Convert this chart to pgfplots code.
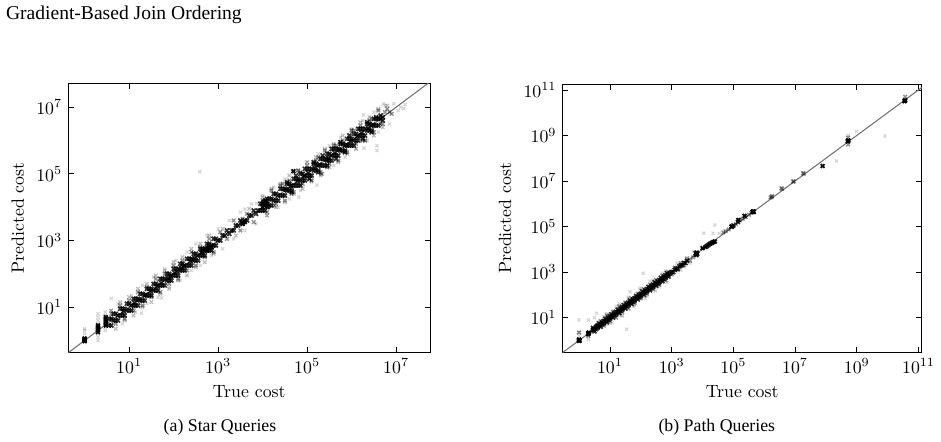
\documentclass[border=0pt]{standalone}
\usepackage{pgfplots}
\pgfplotsset{compat=1.18}
\usepackage{fontspec}
\newfontfamily\capfont{Liberation Serif}

\pgfplotsset{
  scPts/.style={only marks, mark=x, black},
  scHalo/.style={scPts, mark size=1.25pt, line width=0.6pt, opacity=0.17},
  scWide/.style={scPts, mark size=1.4pt, line width=0.7pt, opacity=0.25},
  scMid/.style={scPts, mark size=1.45pt, line width=0.8pt, opacity=0.42},
  scCore/.style={scPts, mark size=1.6pt, line width=0.95pt, opacity=0.8},
  scDark/.style={scPts, mark size=1.5pt, line width=1pt, opacity=0.95},
  scDiag/.style={no marks, black!55, line width=0.6pt},
}

\begin{document}
\begin{tikzpicture}
\path[use as bounding box] (0pt,0pt) rectangle (529.3pt,248.6pt);

\node[anchor=base west, inner sep=0pt, font=\capfont\fontsize{11}{13}\selectfont] at (3.2pt,237.8pt) {Gradient-Based Join Ordering};

% ---------------- (a) Star queries ----------------
\begin{axis}[
  xmode=log, ymode=log, scale only axis,
  xlabel={True cost}, ylabel={Predicted cost},
  tick align=inside, major tick length=3pt,
  tick style={black, line width=0.4pt},
  axis line style={black, line width=0.5pt},
  at={(38.42pt,50.23pt)}, anchor=south west,
  width=203.5pt, height=151.5pt,
  xmin=0.43, xmax=5.8e7, ymin=0.43, ymax=5.2e7,
  xtick={10,1e3,1e5,1e7}, ytick={10,1e3,1e5,1e7}]

\addplot[scHalo] coordinates {
(1,1.58) (1,2.0) (1,2.24) (2,1.0) (2,1.26) (2,1.58) (2,3.16) (2,3.98) (2,5.01) (2,6.31)
(2.9,2.0) (2.9,2.51) (2.9,5.62) (2.9,7.08) (3.98,18.2) (3.9,7.94)
(5.62,12.6) (7.08,3.16) (11.2,22.4) (14.1,7.08) (19,6.6) (20,44.7) (25.1,12.6) (35.5,79.4)
(44.7,20) (54,19) (63.1,141) (79.4,39.8) (112,251) (141,63.1) (200,447) (251,126)
(316,794) (398,178) (562,1410) (708,355) (1000,2240) (1260,562) (1780,3980) (2240,1120)
(3160,7080) (3980,2000) (4000,8700) (7400,13000) (5620,12600) (7080,3160)
(1e4,2.24e4) (1.26e4,5.62e3) (1.78e4,3.98e4) (2.24e4,1e4) (3.16e4,7.08e4) (3.98e4,1.78e4)
(5.62e4,1.26e5) (7.08e4,3.16e4) (6.5e4,2.0e4) (1e5,2.24e5) (1.26e5,5.62e4) (1.66e5,4.6e4)
(1.78e5,3.98e5) (2.24e5,1e5) (3.16e5,7.08e5) (3.98e5,1.78e5) (5.62e5,1.26e6) (7.08e5,3.16e5)
(1e6,2.24e6) (1.26e6,5.62e5) (1.78e6,3.98e6) (2.24e6,1e6) (1.9e6,5.9e5) (1.86e6,5.8e6)
(3.16e6,7.08e6) (3.98e6,1.78e6) (3.72e6,5.0e5) (3.72e6,7.0e5) (5.62e6,1.12e7) (7.08e6,3.16e6)
(8.91e6,1.26e7) (1.12e7,7.94e6) (1.26e7,1.0e7) (1.48e7,9.1e6) (5.2e6,1.26e7) (1.6e7,1.2e7)
(390,1.15e5)
};

\addplot[scWide] coordinates {
(3.98,7.94) (5.01,2.24) (6.31,14.1) (7.94,3.98) (10,20) (12.6,5.62) (15.8,35.5) (20,10)
(25.1,50.1) (31.6,14.1) (39.8,89.1) (50.1,25.1) (63.1,126) (79.4,35.5) (100,224) (126,63.1)
(158,316) (200,89.1) (251,562) (316,158) (398,794) (501,224) (631,1410) (794,398)
(1260,2240) (2510,1410) (5010,8910)
(1e4,2e4) (1.26e4,5.62e3) (1.58e4,3.55e4) (2e4,1e4) (2.51e4,5.01e4) (3.16e4,1.41e4)
(3.98e4,8.91e4) (5.01e4,2.51e4) (6.31e4,1.26e5) (7.94e4,3.55e4) (1e5,2.24e5) (1.26e5,6.31e4)
(1.58e5,3.16e5) (2e5,8.91e4) (2.51e5,5.62e5) (3.16e5,1.58e5) (3.98e5,7.94e5) (5.01e5,2.24e5)
(6.31e5,1.41e6) (7.94e5,3.98e5) (1e6,2e6) (1.26e6,5.62e5) (1.58e6,3.55e6) (2e6,1e6)
(2.51e6,5.01e6) (3.16e6,1.41e6) (3.98e6,8.91e6) (5.01e6,2.51e6) (6.31e6,1.12e7)
};

\addplot[scMid] coordinates {
(3.98,6.31) (5.01,3.16) (6.31,11.2) (7.94,4.47) (10,15.8) (12.6,7.94) (15.8,28.2) (20,11.2)
(25.1,39.8) (31.6,20) (39.8,70.8) (50.1,28.2) (63.1,100) (79.4,50.1) (100,178) (126,70.8)
(158,251) (200,126) (251,447) (316,178) (398,631) (501,316) (631,1120) (794,447)
(1120,1780) (1580,1120) (2240,3980) (3160,2000) (4470,6310) (6310,3550) (3550,4470)
(1e4,1.58e4) (1.26e4,7.08e3) (1.58e4,3.16e4) (2e4,1.26e4) (2.51e4,4.47e4) (3.16e4,1.58e4)
(3.98e4,6.31e4) (5.01e4,2.82e4) (6.31e4,1.26e5) (7.94e4,5.01e4) (1e5,1.78e5) (1.26e5,6.31e4)
(1.58e5,2.51e5) (2e5,1.12e5) (2.1e5,1.0e5) (2.51e5,5.01e5) (3.16e5,2e5) (3.98e5,7.08e5) (5.01e5,2.51e5)
(6.31e5,1e6) (7.94e5,4.47e5) (1e6,2e6) (1.26e6,7.94e5) (1.58e6,2.82e6) (2e6,1e6)
(2.51e6,3.98e6) (3.16e6,1.78e6) (3.98e6,7.94e6) (5.01e6,3.16e6) (6.31e6,8.91e6) (7.94e6,6.31e6)
(1.78e4,1.12e4) (2.82e4,5.01e4) (4.47e4,2.51e4) (7.08e4,1.12e5) (1.12e5,7.08e4) (1.78e5,3.16e5)
(2.82e5,1.58e5) (4.47e5,7.08e5) (7.08e5,4.47e5) (1.12e6,2e6) (1.78e6,1e6) (2.82e6,4.47e6)
(4.47e6,3.16e6) (5.62e6,7.08e6) (7.08e6,7.08e6)
};

\addplot[scCore] coordinates {
(3.55,2.82) (3.55,4.47) (3.98,2.82) (3.98,4.47) (4.47,3.98) (4.47,6.31) (5.01,6.31) (5.01,3.98)
(5.62,5.62) (5.62,3.98) (6.31,8.91) (6.31,5.62) (7.08,5.62) (7.08,8.91) (7.94,5.62) (7.94,8.91)
(8.91,7.94) (8.91,12.6) (10,12.6) (10,7.94) (11.2,11.2) (11.2,7.94) (12.6,17.8) (12.6,11.2)
(14.1,11.2) (14.1,17.8) (15.8,11.2) (15.8,17.8) (17.8,15.8) (17.8,25.1) (20,25.1) (20,15.8)
(22.4,22.4) (22.4,15.8) (25.1,35.5) (25.1,22.4) (28.2,22.4) (28.2,35.5) (31.6,22.4) (31.6,35.5)
(35.5,31.6) (35.5,50.1) (39.8,50.1) (39.8,31.6) (44.7,44.7) (44.7,31.6) (50.1,70.8) (50.1,44.7)
(56.2,44.7) (56.2,70.8) (63.1,44.7) (63.1,70.8) (70.8,63.1) (70.8,100) (79.4,100) (79.4,63.1)
(89.1,89.1) (89.1,63.1) (100,141) (100,89.1) (112,89.1) (112,141) (126,89.1) (126,141)
(141,126) (141,200) (158,200) (158,126) (178,178) (178,126) (200,282) (200,178)
(224,178) (224,282) (251,178) (251,282) (282,251) (282,398) (316,398) (316,251)
(355,355) (355,251) (398,562) (398,355) (447,355) (447,562) (501,355) (501,562)
(562,501) (562,794) (631,794) (631,501) (708,708) (708,501) (794,1120) (794,708)
(891,708) (891,1120)
(1000,1000) (1120,1000) (1260,1410) (1410,1410) (1580,2000) (1780,1580) (2000,2000) (2240,2000)
(2510,2820) (2820,2820) (3160,3980) (3550,3160) (3980,3980) (4470,3980) (5010,5620) (5620,5620)
(6310,7940) (7080,6310) (7940,7940)
(8.91e3,7.94e3) (8.91e3,1.26e4) (1e4,1.26e4) (1e4,7.94e3) (1.12e4,1.12e4) (1.12e4,7.94e3)
(1.26e4,1.78e4) (1.26e4,1.12e4) (1.41e4,1.12e4) (1.41e4,1.78e4) (1.58e4,1.12e4) (1.58e4,1.78e4)
(1.78e4,1.58e4) (1.78e4,2.51e4) (2e4,2.51e4) (2e4,1.58e4) (2.24e4,2.24e4) (2.24e4,1.58e4)
(2.51e4,3.55e4) (2.51e4,2.24e4) (2.82e4,2.24e4) (2.82e4,3.55e4) (3.16e4,2.24e4) (3.16e4,3.55e4)
(3.55e4,3.16e4) (3.55e4,5.01e4) (3.98e4,5.01e4) (3.98e4,3.16e4) (4.47e4,4.47e4) (4.47e4,3.16e4)
(5.01e4,7.08e4) (5.01e4,4.47e4) (5.62e4,4.47e4) (5.62e4,7.08e4) (6.31e4,4.47e4) (6.31e4,7.08e4)
(7.08e4,6.31e4) (7.08e4,1e5) (7.94e4,1e5) (7.94e4,6.31e4) (8.91e4,8.91e4) (8.91e4,6.31e4)
(1e5,1.41e5) (1e5,8.91e4) (1.12e5,8.91e4) (1.12e5,1.41e5) (1.26e5,8.91e4) (1.26e5,1.41e5)
(1.41e5,1.26e5) (1.41e5,2e5) (1.58e5,2e5) (1.58e5,1.26e5) (1.78e5,1.78e5) (1.78e5,1.26e5)
(2e5,2.82e5) (2e5,1.78e5) (2.24e5,1.78e5) (2.24e5,2.82e5) (2.51e5,1.78e5) (2.51e5,2.82e5)
(2.82e5,2.51e5) (2.82e5,3.98e5) (3.16e5,3.98e5) (3.16e5,2.51e5) (3.55e5,3.55e5) (3.55e5,2.51e5)
(3.98e5,5.62e5) (3.98e5,3.55e5) (4.47e5,3.55e5) (4.47e5,5.62e5) (5.01e5,3.55e5) (5.01e5,5.62e5)
(5.62e5,5.01e5) (5.62e5,7.94e5) (6.31e5,7.94e5) (6.31e5,5.01e5) (7.08e5,7.08e5) (7.08e5,5.01e5)
(7.94e5,1.12e6) (7.94e5,7.08e5) (8.91e5,7.08e5) (8.91e5,1.12e6) (1e6,7.08e5) (1e6,1.12e6)
(1.12e6,1e6) (1.12e6,1.58e6) (1.26e6,1.58e6) (1.26e6,1e6) (1.41e6,1.41e6) (1.41e6,1e6)
(1.58e6,2.24e6) (1.58e6,1.41e6) (1.78e6,1.41e6) (1.78e6,2.24e6) (2e6,1.41e6) (2e6,2.24e6)
(2.24e6,2e6) (2.24e6,3.16e6) (2.51e6,3.16e6) (2.51e6,2e6) (2.82e6,2.82e6) (2.82e6,2e6)
(3.16e6,4.47e6) (3.16e6,2.82e6) (3.55e6,2.82e6) (3.55e6,4.47e6) (3.98e6,2.82e6) (3.98e6,4.47e6)
(4.47e6,4.47e6) (4.47e6,5.62e6) (5.01e6,5.01e6) (5.01e6,3.98e6)
(7.5,7.5) (13.3,13.3) (16.8,16.8) (23.7,23.7) (30,30) (42,42) (53,53) (75,75) (84,84)
(106,106) (119,119) (150,150) (168,168) (237,237) (266,266) (300,300) (422,422) (596,596)
(1.5e5,1.5e5) (1.9e5,1.9e5) (2.7e5,2.7e5) (3.0e5,3.0e5) (4.2e5,4.2e5) (5.3e5,5.3e5)
(7.5e5,7.5e5) (9.4e5,9.4e5) (1.33e6,1.33e6) (1.68e6,1.68e6) (2.37e6,2.37e6) (3.0e6,3.0e6)
(6.0e4,6.0e4) (8.4e4,8.4e4) (1.06e5,1.06e5) (3.35e4,3.35e4) (4.2e4,4.2e4)
(3.55e4,5.62e4) (4.47e4,2.82e4) (5.62e4,8.91e4) (7.08e4,4.47e4) (8.91e4,1.41e5) (1.12e5,7.08e4)
(1.41e5,2.24e5) (1.78e5,1.12e5) (2.24e5,3.55e5) (2.82e5,1.78e5) (3.55e5,5.62e5) (4.47e5,2.82e5)
(5.62e5,8.91e5) (7.08e5,4.47e5) (8.91e5,1.41e6) (1.12e6,7.08e5) (1.41e6,2.24e6) (1.78e6,1.12e6)
(2.24e6,3.55e6) (2.82e6,1.78e6) (3.55e6,5.01e6)
};

\addplot[scDark] coordinates {
(1,1) (1,1.05) (1,1.1) (1,0.95) (1,1.15) (1,1.0)
(2,2.0) (2,2.24) (2,2.51) (2,2.82) (2,1.78)
(3,2.82) (3,3.16) (3,3.55) (3,3.98) (3,4.47) (3,5.01)
(447,447) (501,501) (562,562) (631,631) (501,562) (562,501) (447,501) (631,708) (708,631)
(3550,3160) (3980,3550) (3550,3550)
(1e4,1e4) (1.1e4,1.12e4) (1.2e4,1.3e4) (1.05e4,1.45e4) (1.3e4,1.0e4) (1.15e4,1.6e4) (1e4,1.26e4) (1.26e4,1.26e4)
(4.9e4,1.2e5)
};

\addplot[scDiag] coordinates {(0.1,0.1) (1e9,1e9)};
\end{axis}

% ---------------- (b) Path queries ----------------
\begin{axis}[
  xmode=log, ymode=log, scale only axis,
  xlabel={True cost}, ylabel={Predicted cost},
  tick align=inside, major tick length=3pt,
  tick style={black, line width=0.4pt},
  axis line style={black, line width=0.5pt},
  at={(316.5pt,50.23pt)}, anchor=south west,
  width=201.9pt, height=151.0pt,
  xmin=0.295, xmax=1.26e11, ymin=0.29, ymax=1.78e11,
  xtick={10,1e3,1e5,1e7,1e9,1e11}, ytick={10,1e3,1e5,1e7,1e9,1e11}]

\addplot[scHalo] coordinates {
(1,1.58) (1,2.24) (1,7.94) (2,1.12) (2,7.94) (2,1.58) (3.16,10) (3.7,15.5) (3.98,6.31)
(8,15) (12,6) (20,40) (25,12) (35,3.1) (40,80) (45,138) (60,30) (83,117) (90,180)
(120,890) (140,70) (200,400) (300,150) (500,900) (700,350) (1500,2500) (2000,1200)
(4000,2500) (5000,8000) (1.1e4,5.1e4) (2.2e4,5.1e4) (2.5e4,1.17e5) (3.5e4,5.0e4)
(2.2e8,7.6e7) (9.8e8,1.5e9) (8.1e9,9.5e8) (5.2e8,1.0e9)
(6.31,11.2) (10,5.62) (15.8,31.6) (25.1,12.6) (39.8,70.8) (63.1,35.5) (100,200) (158,89.1)
(251,447) (398,224) (631,1120) (7.94,5.01) (12.6,20) (20,12.6) (31.6,50.1)
};

\addplot[scMid] coordinates {
(5.01,7.08) (6.31,4.47) (7.94,12.6) (10,7.08) (12.6,17.8) (15.8,10) (20,31.6) (25.1,17.8)
(31.6,44.7) (39.8,25.1) (50.1,70.8) (63.1,44.7) (79.4,112) (100,70.8) (126,178) (158,112)
(200,282) (251,178) (316,447) (398,282) (501,708) (631,447) (794,1000) (1000,794)
(1260,1580) (1580,1260) (2000,2510) (2510,2000) (3160,3980) (3980,3160) (5010,4470)
(4.7e4,5.5e4) (5.6e4,6.3e4) (7.0e4,7.5e4) (1.2e5,1.3e5) (1.6e5,1.9e5) (2.0e5,2.2e5)
(2.5e5,2.6e5) (3.2e5,3.3e5) (3.8e5,4.0e5)
(1.74e6,2.0e6) (1.8e6,2.2e6) (1.6e6,1.9e6) (3.6e6,4.8e6) (3.8e6,4.5e6)
(8.7e6,9.3e6) (9.0e6,9.8e6) (1.8e7,2.2e7) (1.9e7,2.1e7)
(5.2e8,8e8) (5.2e8,4.0e8) (3.7e10,5.0e10)
(1,2.24) (2,1.58)
};

\addplot[scCore] coordinates {
(2.82,2.82) (2.82,3.55) (3.16,2.51) (3.16,3.16) (3.55,3.98) (3.55,3.16) (3.98,3.55) (3.98,4.47)
(4.47,4.47) (4.47,5.62) (5.01,3.98) (5.01,5.01) (5.62,6.31) (5.62,5.01) (6.31,5.62) (6.31,7.08)
(7.08,7.08) (7.08,8.91) (7.94,6.31) (7.94,7.94) (8.91,10) (8.91,7.94) (10,8.91) (10,11.2)
(11.2,11.2) (11.2,14.1) (12.6,10) (12.6,12.6) (14.1,15.8) (14.1,12.6) (15.8,14.1) (15.8,17.8)
(17.8,17.8) (17.8,22.4) (20,15.8) (20,20) (22.4,25.1) (22.4,20) (25.1,22.4) (25.1,28.2)
(28.2,28.2) (28.2,35.5) (31.6,25.1) (31.6,31.6) (35.5,39.8) (35.5,31.6) (39.8,35.5) (39.8,44.7)
(44.7,44.7) (44.7,56.2) (50.1,39.8) (50.1,50.1) (56.2,63.1) (56.2,50.1) (63.1,56.2) (63.1,70.8)
(70.8,70.8) (70.8,89.1) (79.4,63.1) (79.4,79.4) (89.1,100) (89.1,79.4) (100,89.1) (100,112)
(112,112) (112,141) (126,100) (126,126) (141,158) (141,126) (158,141) (158,178)
(178,178) (178,224) (200,158) (200,200) (224,251) (224,200) (251,224) (251,282)
(282,282) (282,355) (316,251) (316,316) (355,398) (355,316) (398,355) (398,447)
(447,447) (447,562) (501,398) (501,501) (562,631) (562,501) (631,562) (631,708)
(708,708) (708,891) (794,631) (794,794)
(891,891) (1000,1000) (1120,1000) (1260,1260) (1410,1410) (1580,1410) (1780,1780) (2000,2000)
(2240,2000) (2510,2510) (2820,2510) (3160,3160)
(4.4e5,4.5e5) (8.9e4,1.0e5) (1.0e5,1.12e5) (1.4e5,1.6e5)
};

\addplot[scDark] coordinates {
(1,1) (1,1.05) (1,0.95) (1,1.1) (1.05,1)
(2,2) (2,2.1) (2,1.9) (2.1,2.2)
(3,3) (3,3.2) (4,4) (4,4.3)
(6.31e3,6.31e3) (6.5e3,7.1e3) (6.0e3,6.8e3) (6.8e3,6.3e3) (6.31e3,5.62e3)
(1.0e4,1.12e4) (1.26e4,1.26e4) (1.41e4,1.41e4) (1.58e4,1.58e4) (1.78e4,1.78e4) (2.0e4,1.9e4) (2.24e4,2.1e4) (2.5e4,2.2e4)
(8.7e4,1.0e5) (1.45e5,1.95e5) (2.3e5,2.95e5) (4.4e5,4.6e5) (4.2e5,4.4e5) (4.6e5,4.4e5)
(7.8e7,4.6e7)
(5.2e8,5.75e8) (5.3e8,6.0e8) (5.1e8,5.5e8)
(3.6e10,3.3e10) (3.7e10,3.5e10) (3.5e10,3.2e10)
};

\addplot[scDiag] coordinates {(0.1,0.1) (1e12,1e12)};
\end{axis}

\node[anchor=base, inner sep=0pt, font=\capfont\fontsize{10}{12}\selectfont] at (123.75pt,5.8pt) {(a) Star Queries};
\node[anchor=base, inner sep=0pt, font=\capfont\fontsize{10}{12}\selectfont] at (403.2pt,5.8pt) {(b) Path Queries};
\end{tikzpicture}
\end{document}
